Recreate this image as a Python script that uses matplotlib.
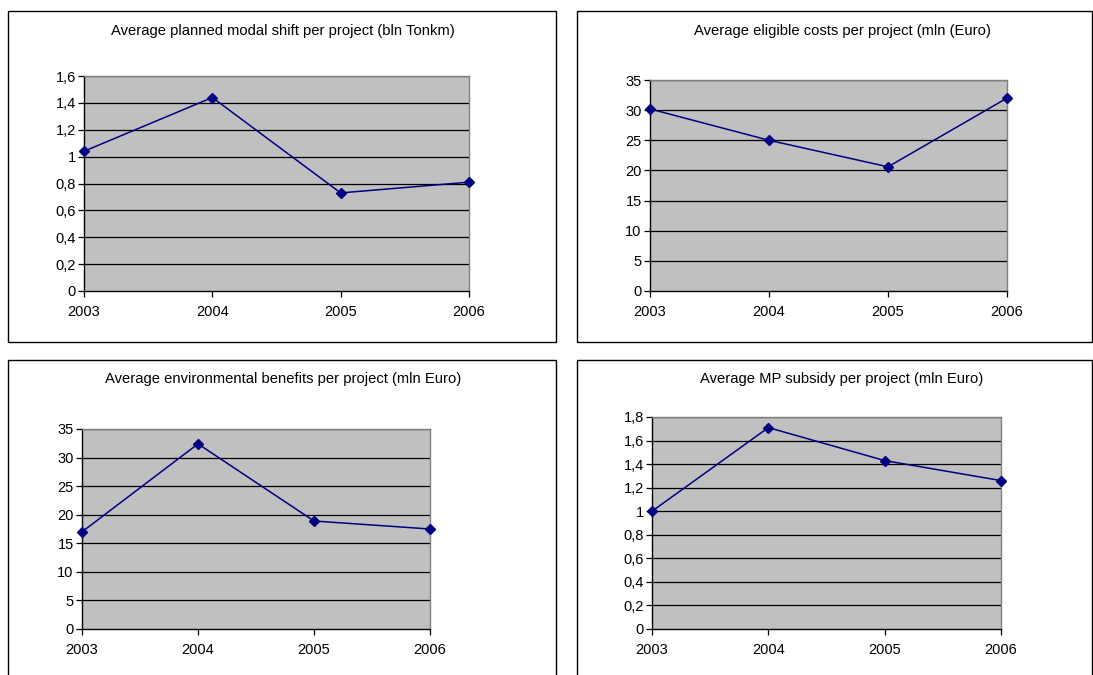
import matplotlib
matplotlib.use('Agg')
import matplotlib.pyplot as plt
from matplotlib.patches import Rectangle

plt.rcParams['font.family'] = ['Liberation Sans', 'DejaVu Sans']

# yearly averages per project
years = [2003, 2004, 2005, 2006]
modal_shift = [1.04, 1.44, 0.73, 0.81]      # bln Tonkm
eligible_costs = [30.2, 25.0, 20.6, 32.0]   # mln Euro
env_benefits = [17.0, 32.4, 18.9, 17.5]     # mln Euro
mp_subsidy = [1.0, 1.71, 1.43, 1.26]        # mln Euro

titles = ['Average planned modal shift per project (bln Tonkm)',
          'Average eligible costs per project (mln (Euro)',
          'Average environmental benefits per project (mln Euro)',
          'Average MP subsidy per project (mln Euro)']

ticks_small = [0, 0.2, 0.4, 0.6, 0.8, 1, 1.2, 1.4, 1.6]
ticks_small_18 = [0, 0.2, 0.4, 0.6, 0.8, 1, 1.2, 1.4, 1.6, 1.8]
ticks_big = [0, 5, 10, 15, 20, 25, 30, 35]

W, H = 1093, 675
fig = plt.figure(figsize=(W / 100, H / 100), dpi=100)

def px_axes(x0, y0, x1, y1):
    return fig.add_axes([x0 / W, 1 - y1 / H, (x1 - x0) / W, (y1 - y0) / H])

def px_box(x0, y0, x1, y1):
    fig.add_artist(Rectangle((x0 / W, 1 - y1 / H), (x1 - x0) / W, (y1 - y0) / H,
                             transform=fig.transFigure, fill=False,
                             edgecolor='black', linewidth=1.0))

def fmt(v):
    s = ('%g' % v)
    return s.replace('.', ',')

# (box, plot area, title position, values, y ticks)
panels = [
    ((8, 11, 556, 342), (84, 76, 469, 291), (283, 31), modal_shift, ticks_small),
    ((577, 11, 1092, 342), (650, 80, 1007, 291), (842, 31), eligible_costs, ticks_big),
    ((8, 360, 556, 680), (82, 429, 430, 629), (283, 379), env_benefits, ticks_big),
    ((577, 360, 1092, 680), (652, 417, 1001, 629), (842, 379), mp_subsidy, ticks_small_18),
]

for (box, area, tpos, vals, yt), title in zip(panels, titles):
    px_box(*box)
    ax = px_axes(*area)
    ax.set_facecolor('#c0c0c0')
    for y in yt[1:]:
        ax.axhline(y, color='black', linewidth=0.9, zorder=1)
    ax.plot(years, vals, color='#000080', linewidth=1.1, marker='D',
            markersize=5, zorder=3, clip_on=False)
    ax.set_xlim(years[0], years[-1])
    ax.set_ylim(yt[0], yt[-1])
    ax.set_xticks(years)
    ax.set_xticklabels([str(y) for y in years])
    ax.set_yticks(yt)
    ax.set_yticklabels([fmt(v) for v in yt])
    ax.tick_params(axis='both', direction='out', length=4, width=0.9,
                   labelsize=10.5, color='black', pad=2)
    ax.tick_params(axis='x', pad=6)
    for side in ('left', 'bottom'):
        ax.spines[side].set_color('black')
        ax.spines[side].set_linewidth(1.0)
    for side in ('top', 'right'):
        ax.spines[side].set_color('#808080')
        ax.spines[side].set_linewidth(1.0)
    fig.text(tpos[0] / W, 1 - tpos[1] / H, title, ha='center', va='center',
             fontsize=10.6)

fig.savefig('out.png', dpi=100)
